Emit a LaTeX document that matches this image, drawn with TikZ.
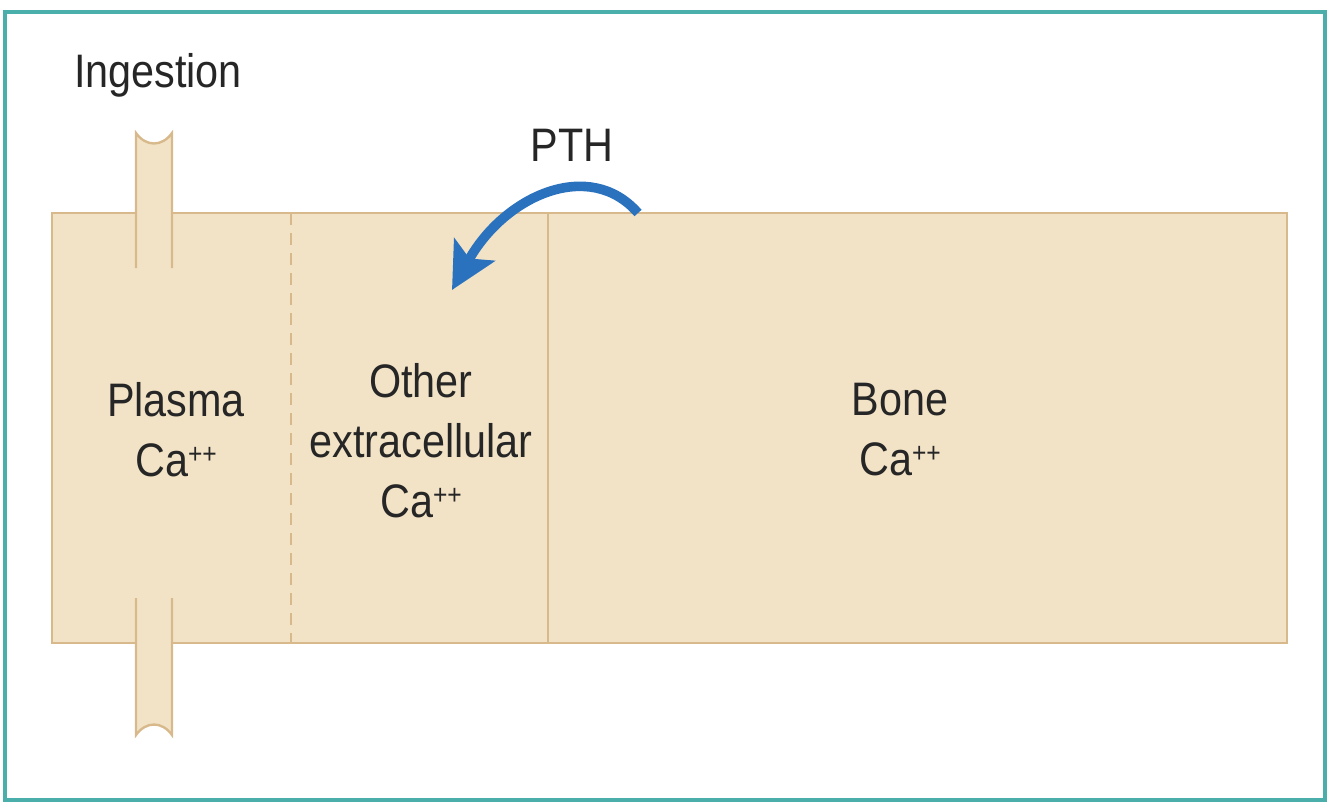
\documentclass[tikz,border=0pt]{standalone}
\usepackage{fontspec}
\setmainfont[FakeStretch=0.88]{Liberation Sans}
\usepackage{tikz}
\usetikzlibrary{arrows.meta}
\definecolor{frame}{HTML}{4AAEAA}
\definecolor{tissue}{HTML}{F2E3C7}
\definecolor{tissueline}{HTML}{D8B98C}
\definecolor{hormone}{HTML}{2B72BE}
\newcommand{\calcion}{Ca\raisebox{0.55ex}{\fontsize{14}{14}\selectfont ++}}
\tikzset{
  compartment/.style={fill=tissue, draw=tissueline, line width=1.2pt},
  wall/.style={draw=tissueline, line width=1.2pt},
  label/.style={font=\fontsize{23.5}{30}\selectfont, align=center, text=black!85},
  pth/.style={-{Stealth[length=23pt,width=23pt,inset=5pt]}, line width=4.8pt, color=hormone},
}
\begin{document}
\begin{tikzpicture}[x=0.5pt,y=-0.5pt]
  \useasboundingbox (0,0) rectangle (1334,811);
  \draw[frame, line width=2.4pt] (5,12) rectangle (1325,800);
  % body compartments
  \draw[compartment] (52,213) rectangle (1287,643);
  \draw[wall, dash pattern=on 6pt off 4pt] (291,213) -- (291,643);
  \draw[wall] (548,213) -- (548,643);
  % gut tube, in and out
  \fill[tissue] (136,268) -- (136,133) .. controls (146,147) and (162,147) .. (172,133) -- (172,268) -- cycle;
  \draw[wall] (136,268) -- (136,133) .. controls (146,147) and (162,147) .. (172,133) -- (172,268);
  \fill[tissue] (136,598) -- (136,735) .. controls (146,721) and (162,721) .. (172,735) -- (172,598) -- cycle;
  \draw[wall] (136,598) -- (136,735) .. controls (146,721) and (162,721) .. (172,735) -- (172,598);
  % labels
  \node[label] (ingest) at (158,75) {Ingestion};
  \node[label] (pthlab) at (572,145) {PTH};
  \node[label] (plasma) at (176,430) {Plasma\\\calcion};
  \node[label] (extra) at (421,441) {Other\\extracellular\\\calcion};
  \node[label] (bone) at (900,430) {Bone\\\calcion};
  % PTH mobilises bone calcium
  \coordinate (pthfrom) at (638,213);
  \coordinate (pthto) at (452,290);
  \draw[pth] (pthfrom) .. controls (590,158) and (505,195) .. (pthto);
\end{tikzpicture}
\end{document}
